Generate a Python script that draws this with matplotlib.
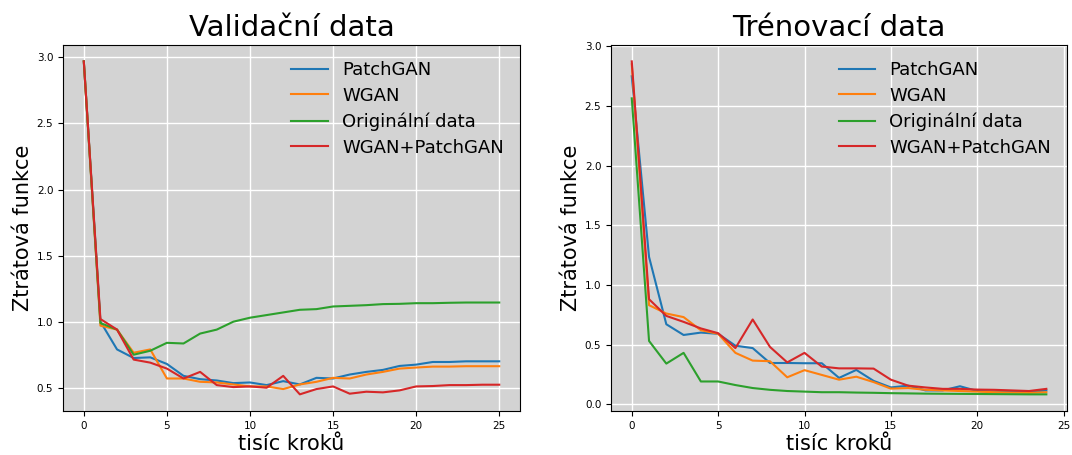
import matplotlib.pyplot as plt

# validation loss (every 1000 steps)
val_steps = list(range(26))
val_patchgan = [2.97, 1.0, 0.79, 0.725, 0.73, 0.68, 0.59, 0.565, 0.555, 0.535, 0.54, 0.52, 0.55, 0.525,
                0.575, 0.57, 0.6, 0.62, 0.635, 0.665, 0.675, 0.695, 0.695, 0.7, 0.7, 0.7]
val_wgan = [2.97, 0.97, 0.94, 0.765, 0.79, 0.57, 0.57, 0.545, 0.54, 0.525, 0.51, 0.51, 0.49, 0.525,
            0.545, 0.575, 0.57, 0.6, 0.62, 0.645, 0.653, 0.66, 0.66, 0.663, 0.663, 0.663]
val_orig = [2.97, 0.99, 0.94, 0.75, 0.78, 0.84, 0.835, 0.91, 0.94, 1.0, 1.03, 1.05, 1.07, 1.09,
            1.095, 1.115, 1.12, 1.125, 1.133, 1.135, 1.14, 1.14, 1.143, 1.145, 1.145, 1.145]
val_wgan_patch = [2.97, 1.02, 0.94, 0.713, 0.69, 0.645, 0.57, 0.62, 0.52, 0.505, 0.51, 0.5, 0.59, 0.45,
                  0.49, 0.51, 0.455, 0.47, 0.465, 0.48, 0.51, 0.513, 0.52, 0.52, 0.523, 0.523]

# training loss
train_steps = list(range(25))
train_patchgan = [2.75, 1.235, 0.67, 0.58, 0.6, 0.59, 0.49, 0.47, 0.345, 0.345, 0.343, 0.343, 0.22,
                  0.287, 0.195, 0.14, 0.155, 0.115, 0.115, 0.15, 0.11, 0.105, 0.103, 0.103, 0.115]
train_wgan = [2.85, 0.83, 0.76, 0.73, 0.62, 0.59, 0.43, 0.365, 0.36, 0.225, 0.285, 0.245, 0.205,
              0.23, 0.185, 0.13, 0.135, 0.12, 0.115, 0.11, 0.105, 0.1, 0.097, 0.095, 0.1]
train_orig = [2.565, 0.53, 0.34, 0.43, 0.19, 0.19, 0.16, 0.135, 0.12, 0.11, 0.105, 0.1, 0.1, 0.097,
              0.095, 0.092, 0.09, 0.088, 0.087, 0.086, 0.085, 0.084, 0.083, 0.082, 0.082]
train_wgan_patch = [2.875, 0.88, 0.74, 0.69, 0.635, 0.595, 0.47, 0.71, 0.48, 0.35, 0.43, 0.315, 0.3,
                    0.3, 0.298, 0.205, 0.155, 0.14, 0.128, 0.128, 0.122, 0.12, 0.115, 0.11, 0.128]

labels = ["PatchGAN", "WGAN", "Originální data", "WGAN+PatchGAN"]

fig = plt.figure(figsize=(10.72, 4.55), dpi=100)
ax1 = fig.add_axes([0.0588, 0.0967, 0.4263, 0.805])
ax2 = fig.add_axes([0.570, 0.0967, 0.4254, 0.805])

def draw(ax, steps, series, title):
    ax.set_facecolor("lightgray")
    ax.grid(True, color="white", linewidth=1)
    ax.set_axisbelow(True)
    for s, lab in zip(series, labels):
        ax.plot(steps, s, label=lab, linewidth=1.5)
    ax.set_title(title, fontsize=21)
    ax.set_xlabel("tisíc kroků", fontsize=15, labelpad=2)
    ax.set_ylabel("Ztrátová funkce", fontsize=15, labelpad=3)
    ax.tick_params(labelsize=7.5)
    ax.legend(loc="upper right", fontsize=13, frameon=False, labelspacing=0.43)

draw(ax1, val_steps, [val_patchgan, val_wgan, val_orig, val_wgan_patch], "Validační data")
draw(ax2, train_steps, [train_patchgan, train_wgan, train_orig, train_wgan_patch], "Trénovací data")

fig.savefig("out.png", dpi=100)
